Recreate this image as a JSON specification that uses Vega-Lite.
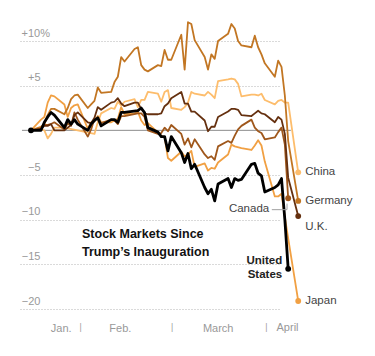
{
  "$schema": "https://vega.github.io/schema/vega-lite/v6.json",
  "width": 259,
  "height": 268,
  "autosize": {"type": "none"},
  "padding": {"left": 20, "top": 41, "right": 96, "bottom": 47},
  "background": "white",
  "config": {"view": {"stroke": null}, "font": "Liberation Sans"},
  "data": {"values": [
    {"country":"China","day":0,"pct":0},{"country":"China","day":3,"pct":0.1},{"country":"China","day":4,"pct":0},{"country":"China","day":5,"pct":-0.9},{"country":"China","day":6,"pct":-0.4},{"country":"China","day":7,"pct":0.3},{"country":"China","day":10,"pct":0.3},{"country":"China","day":19,"pct":-0.4},{"country":"China","day":20,"pct":0.9},{"country":"China","day":21,"pct":1.9},{"country":"China","day":24,"pct":2.5},{"country":"China","day":25,"pct":2.4},{"country":"China","day":26,"pct":3.2},{"country":"China","day":27,"pct":2.8},{"country":"China","day":28,"pct":3.2},{"country":"China","day":31,"pct":3.5},{"country":"China","day":32,"pct":2.6},{"country":"China","day":33,"pct":3.4},{"country":"China","day":34,"pct":3.4},{"country":"China","day":35,"pct":4.3},{"country":"China","day":38,"pct":4.1},{"country":"China","day":39,"pct":3.2},{"country":"China","day":40,"pct":4.3},{"country":"China","day":41,"pct":4.5},{"country":"China","day":42,"pct":2.5},{"country":"China","day":45,"pct":2.3},{"country":"China","day":46,"pct":2.6},{"country":"China","day":47,"pct":3.1},{"country":"China","day":48,"pct":4.3},{"country":"China","day":49,"pct":4.1},{"country":"China","day":52,"pct":3.9},{"country":"China","day":53,"pct":4.3},{"country":"China","day":54,"pct":4.0},{"country":"China","day":55,"pct":3.6},{"country":"China","day":56,"pct":5.5},{"country":"China","day":59,"pct":5.7},{"country":"China","day":60,"pct":5.8},{"country":"China","day":61,"pct":5.7},{"country":"China","day":62,"pct":5.2},{"country":"China","day":63,"pct":3.8},{"country":"China","day":66,"pct":4.0},{"country":"China","day":67,"pct":4.0},{"country":"China","day":68,"pct":3.9},{"country":"China","day":69,"pct":4.1},{"country":"China","day":70,"pct":3.4},{"country":"China","day":73,"pct":2.9},{"country":"China","day":74,"pct":3.3},{"country":"China","day":75,"pct":3.4},{"country":"China","day":76,"pct":3.1},{"country":"China","day":77,"pct":3.1},{"country":"China","day":80,"pct":-4.7},

    {"country":"Japan","day":0,"pct":0},{"country":"Japan","day":3,"pct":1.2},{"country":"Japan","day":4,"pct":1.5},{"country":"Japan","day":5,"pct":3.1},{"country":"Japan","day":6,"pct":3.9},{"country":"Japan","day":7,"pct":3.8},{"country":"Japan","day":10,"pct":2.9},{"country":"Japan","day":11,"pct":1.5},{"country":"Japan","day":12,"pct":2.5},{"country":"Japan","day":13,"pct":2.8},{"country":"Japan","day":14,"pct":2.9},{"country":"Japan","day":17,"pct":0.2},{"country":"Japan","day":18,"pct":0.9},{"country":"Japan","day":19,"pct":1.0},{"country":"Japan","day":20,"pct":1.6},{"country":"Japan","day":21,"pct":0.9},{"country":"Japan","day":24,"pct":0.9},{"country":"Japan","day":26,"pct":1.3},{"country":"Japan","day":27,"pct":2.6},{"country":"Japan","day":28,"pct":1.8},{"country":"Japan","day":31,"pct":1.9},{"country":"Japan","day":32,"pct":2.1},{"country":"Japan","day":33,"pct":1.1},{"country":"Japan","day":34,"pct":0.6},{"country":"Japan","day":35,"pct":0.8},{"country":"Japan","day":39,"pct":-0.6},{"country":"Japan","day":40,"pct":-0.8},{"country":"Japan","day":41,"pct":-3.1},{"country":"Japan","day":42,"pct":-3.4},{"country":"Japan","day":45,"pct":-2.4},{"country":"Japan","day":46,"pct":-2.9},{"country":"Japan","day":47,"pct":-2.7},{"country":"Japan","day":48,"pct":-2.3},{"country":"Japan","day":49,"pct":-4.1},{"country":"Japan","day":52,"pct":-3.7},{"country":"Japan","day":53,"pct":-4.5},{"country":"Japan","day":54,"pct":-4.2},{"country":"Japan","day":55,"pct":-4.3},{"country":"Japan","day":56,"pct":-3.6},{"country":"Japan","day":59,"pct":-2.7},{"country":"Japan","day":60,"pct":-1.6},{"country":"Japan","day":61,"pct":-1.8},{"country":"Japan","day":63,"pct":-2.0},{"country":"Japan","day":66,"pct":-2.2},{"country":"Japan","day":67,"pct":-1.7},{"country":"Japan","day":68,"pct":-1.1},{"country":"Japan","day":69,"pct":-1.7},{"country":"Japan","day":70,"pct":-3.5},{"country":"Japan","day":73,"pct":-7.4},{"country":"Japan","day":74,"pct":-7.4},{"country":"Japan","day":75,"pct":-7.1},{"country":"Japan","day":76,"pct":-9.7},{"country":"Japan","day":77,"pct":-12.1},{"country":"Japan","day":80,"pct":-19.1},

    {"country":"Germany","day":0,"pct":0},{"country":"Germany","day":3,"pct":0.4},{"country":"Germany","day":4,"pct":0.7},{"country":"Germany","day":5,"pct":1.7},{"country":"Germany","day":6,"pct":2.4},{"country":"Germany","day":7,"pct":2.4},{"country":"Germany","day":10,"pct":1.8},{"country":"Germany","day":11,"pct":2.5},{"country":"Germany","day":12,"pct":3.5},{"country":"Germany","day":13,"pct":3.9},{"country":"Germany","day":14,"pct":4.0},{"country":"Germany","day":17,"pct":2.5},{"country":"Germany","day":18,"pct":2.9},{"country":"Germany","day":19,"pct":3.3},{"country":"Germany","day":20,"pct":4.8},{"country":"Germany","day":21,"pct":4.2},{"country":"Germany","day":24,"pct":4.3},{"country":"Germany","day":25,"pct":5.4},{"country":"Germany","day":26,"pct":6.0},{"country":"Germany","day":27,"pct":8.2},{"country":"Germany","day":28,"pct":7.7},{"country":"Germany","day":31,"pct":9.1},{"country":"Germany","day":32,"pct":9.3},{"country":"Germany","day":33,"pct":7.3},{"country":"Germany","day":34,"pct":6.8},{"country":"Germany","day":35,"pct":6.6},{"country":"Germany","day":38,"pct":7.3},{"country":"Germany","day":39,"pct":7.2},{"country":"Germany","day":40,"pct":9.0},{"country":"Germany","day":41,"pct":7.9},{"country":"Germany","day":42,"pct":7.9},{"country":"Germany","day":45,"pct":10.7},{"country":"Germany","day":46,"pct":6.8},{"country":"Germany","day":47,"pct":12.1},{"country":"Germany","day":48,"pct":11.9},{"country":"Germany","day":49,"pct":10.1},{"country":"Germany","day":52,"pct":8.2},{"country":"Germany","day":53,"pct":6.8},{"country":"Germany","day":54,"pct":8.5},{"country":"Germany","day":55,"pct":8.0},{"country":"Germany","day":56,"pct":10.0},{"country":"Germany","day":59,"pct":10.8},{"country":"Germany","day":60,"pct":11.9},{"country":"Germany","day":61,"pct":11.4},{"country":"Germany","day":62,"pct":10.0},{"country":"Germany","day":63,"pct":9.5},{"country":"Germany","day":66,"pct":9.3},{"country":"Germany","day":67,"pct":10.6},{"country":"Germany","day":68,"pct":9.3},{"country":"Germany","day":69,"pct":8.5},{"country":"Germany","day":70,"pct":7.5},{"country":"Germany","day":73,"pct":6.0},{"country":"Germany","day":74,"pct":7.8},{"country":"Germany","day":75,"pct":7.1},{"country":"Germany","day":76,"pct":3.9},{"country":"Germany","day":77,"pct":-1.2},{"country":"Germany","day":80,"pct":-7.9},

    {"country":"Canada","day":0,"pct":0},{"country":"Canada","day":3,"pct":0.2},{"country":"Canada","day":4,"pct":0.6},{"country":"Canada","day":5,"pct":0.6},{"country":"Canada","day":6,"pct":0.7},{"country":"Canada","day":7,"pct":0.9},{"country":"Canada","day":10,"pct":0.1},{"country":"Canada","day":11,"pct":0.8},{"country":"Canada","day":12,"pct":0.5},{"country":"Canada","day":13,"pct":2.0},{"country":"Canada","day":14,"pct":1.2},{"country":"Canada","day":17,"pct":-0.7},{"country":"Canada","day":18,"pct":0.1},{"country":"Canada","day":19,"pct":1.3},{"country":"Canada","day":20,"pct":1.3},{"country":"Canada","day":21,"pct":0.8},{"country":"Canada","day":24,"pct":1.2},{"country":"Canada","day":25,"pct":1.1},{"country":"Canada","day":26,"pct":0.7},{"country":"Canada","day":27,"pct":1.6},{"country":"Canada","day":28,"pct":1.6},{"country":"Canada","day":32,"pct":1.9},{"country":"Canada","day":33,"pct":1.9},{"country":"Canada","day":34,"pct":1.5},{"country":"Canada","day":35,"pct":0.0},{"country":"Canada","day":38,"pct":-0.4},{"country":"Canada","day":39,"pct":-0.3},{"country":"Canada","day":40,"pct":0.3},{"country":"Canada","day":41,"pct":-0.1},{"country":"Canada","day":42,"pct":0.6},{"country":"Canada","day":45,"pct":-0.4},{"country":"Canada","day":46,"pct":-1.6},{"country":"Canada","day":47,"pct":-0.9},{"country":"Canada","day":48,"pct":-1.9},{"country":"Canada","day":49,"pct":-1.0},{"country":"Canada","day":52,"pct":-2.7},{"country":"Canada","day":53,"pct":-3.1},{"country":"Canada","day":54,"pct":-2.9},{"country":"Canada","day":55,"pct":-3.3},{"country":"Canada","day":56,"pct":-1.8},{"country":"Canada","day":59,"pct":-1.2},{"country":"Canada","day":60,"pct":-1.4},{"country":"Canada","day":61,"pct":-0.6},{"country":"Canada","day":62,"pct":0.1},{"country":"Canada","day":63,"pct":0.5},{"country":"Canada","day":66,"pct":1.2},{"country":"Canada","day":67,"pct":0.3},{"country":"Canada","day":68,"pct":-0.1},{"country":"Canada","day":69,"pct":-0.3},{"country":"Canada","day":70,"pct":-1.0},{"country":"Canada","day":73,"pct":-0.8},{"country":"Canada","day":74,"pct":-0.2},{"country":"Canada","day":75,"pct":0.3},{"country":"Canada","day":76,"pct":-1.6},{"country":"Canada","day":77,"pct":-7.6},

    {"country":"U.K.","day":0,"pct":0},{"country":"U.K.","day":3,"pct":0.2},{"country":"U.K.","day":4,"pct":0.5},{"country":"U.K.","day":5,"pct":0.5},{"country":"U.K.","day":6,"pct":0.7},{"country":"U.K.","day":7,"pct":0.0},{"country":"U.K.","day":10,"pct":0.0},{"country":"U.K.","day":11,"pct":0.3},{"country":"U.K.","day":12,"pct":0.6},{"country":"U.K.","day":13,"pct":1.7},{"country":"U.K.","day":14,"pct":2.0},{"country":"U.K.","day":17,"pct":0.9},{"country":"U.K.","day":18,"pct":0.8},{"country":"U.K.","day":19,"pct":1.4},{"country":"U.K.","day":20,"pct":2.6},{"country":"U.K.","day":21,"pct":2.3},{"country":"U.K.","day":24,"pct":3.1},{"country":"U.K.","day":25,"pct":3.2},{"country":"U.K.","day":26,"pct":3.6},{"country":"U.K.","day":27,"pct":3.0},{"country":"U.K.","day":28,"pct":2.7},{"country":"U.K.","day":31,"pct":3.1},{"country":"U.K.","day":32,"pct":3.1},{"country":"U.K.","day":33,"pct":2.4},{"country":"U.K.","day":34,"pct":1.9},{"country":"U.K.","day":35,"pct":1.8},{"country":"U.K.","day":38,"pct":1.8},{"country":"U.K.","day":39,"pct":1.9},{"country":"U.K.","day":40,"pct":2.7},{"country":"U.K.","day":41,"pct":3.0},{"country":"U.K.","day":42,"pct":3.6},{"country":"U.K.","day":45,"pct":4.3},{"country":"U.K.","day":46,"pct":3.0},{"country":"U.K.","day":47,"pct":3.0},{"country":"U.K.","day":48,"pct":2.1},{"country":"U.K.","day":49,"pct":2.1},{"country":"U.K.","day":52,"pct":1.1},{"country":"U.K.","day":53,"pct":-0.1},{"country":"U.K.","day":54,"pct":0.4},{"country":"U.K.","day":55,"pct":0.4},{"country":"U.K.","day":56,"pct":1.5},{"country":"U.K.","day":59,"pct":2.1},{"country":"U.K.","day":60,"pct":2.4},{"country":"U.K.","day":61,"pct":2.4},{"country":"U.K.","day":62,"pct":2.3},{"country":"U.K.","day":63,"pct":1.7},{"country":"U.K.","day":66,"pct":1.6},{"country":"U.K.","day":67,"pct":1.9},{"country":"U.K.","day":68,"pct":2.2},{"country":"U.K.","day":69,"pct":1.9},{"country":"U.K.","day":70,"pct":1.8},{"country":"U.K.","day":73,"pct":0.9},{"country":"U.K.","day":74,"pct":1.5},{"country":"U.K.","day":75,"pct":1.2},{"country":"U.K.","day":76,"pct":-0.4},{"country":"U.K.","day":77,"pct":-5.3},{"country":"U.K.","day":80,"pct":-9.6},

    {"country":"United States","day":0,"pct":0},{"country":"United States","day":3,"pct":0},{"country":"United States","day":4,"pct":0.9},{"country":"United States","day":5,"pct":1.5},{"country":"United States","day":6,"pct":2.0},{"country":"United States","day":7,"pct":1.7},{"country":"United States","day":10,"pct":0.3},{"country":"United States","day":11,"pct":1.2},{"country":"United States","day":12,"pct":0.7},{"country":"United States","day":13,"pct":1.2},{"country":"United States","day":14,"pct":0.7},{"country":"United States","day":17,"pct":0.0},{"country":"United States","day":18,"pct":0.7},{"country":"United States","day":19,"pct":1.1},{"country":"United States","day":20,"pct":1.4},{"country":"United States","day":21,"pct":0.5},{"country":"United States","day":24,"pct":1.2},{"country":"United States","day":25,"pct":1.2},{"country":"United States","day":26,"pct":0.9},{"country":"United States","day":27,"pct":2.0},{"country":"United States","day":28,"pct":2.0},{"country":"United States","day":32,"pct":2.2},{"country":"United States","day":33,"pct":2.5},{"country":"United States","day":34,"pct":2.0},{"country":"United States","day":35,"pct":0.3},{"country":"United States","day":38,"pct":-0.2},{"country":"United States","day":39,"pct":-0.7},{"country":"United States","day":40,"pct":-0.7},{"country":"United States","day":41,"pct":-2.3},{"country":"United States","day":42,"pct":-0.7},{"country":"United States","day":45,"pct":-2.5},{"country":"United States","day":46,"pct":-3.6},{"country":"United States","day":47,"pct":-2.6},{"country":"United States","day":48,"pct":-4.3},{"country":"United States","day":49,"pct":-3.8},{"country":"United States","day":52,"pct":-6.4},{"country":"United States","day":53,"pct":-7.1},{"country":"United States","day":54,"pct":-6.6},{"country":"United States","day":55,"pct":-7.9},{"country":"United States","day":56,"pct":-6.0},{"country":"United States","day":59,"pct":-5.4},{"country":"United States","day":60,"pct":-6.4},{"country":"United States","day":61,"pct":-5.4},{"country":"United States","day":62,"pct":-5.6},{"country":"United States","day":63,"pct":-5.5},{"country":"United States","day":66,"pct":-3.8},{"country":"United States","day":67,"pct":-3.7},{"country":"United States","day":68,"pct":-4.8},{"country":"United States","day":69,"pct":-5.1},{"country":"United States","day":70,"pct":-6.9},{"country":"United States","day":73,"pct":-6.4},{"country":"United States","day":74,"pct":-6.1},{"country":"United States","day":75,"pct":-5.4},{"country":"United States","day":76,"pct":-10.0},{"country":"United States","day":77,"pct":-15.5}
  ]},
  "encoding": {
    "x": {"field": "day", "type": "quantitative",
      "scale": {"domain": [-3.29, 74.25], "nice": false, "zero": false},
      "axis": {"values": [8.9, 14.7, 26.6, 42.1, 55.9, 70.3],
        "labelExpr": "datum.value == 8.9 ? 'Jan.' : datum.value == 26.6 ? 'Feb.' : datum.value == 55.9 ? 'March' : '|'",
        "title": null, "domain": false, "ticks": false, "grid": false,
        "labelPadding": 13, "labelColor": "#999999", "labelFont": "Liberation Sans",
        "labelFontSize": {"condition": {"test": "datum.value == 14.7 || datum.value == 42.1 || datum.value == 70.3", "value": 8.5}, "value": 11},
        "labelFlush": false, "labelOverlap": false, "labelBound": false}},
    "y": {"field": "pct", "type": "quantitative",
      "scale": {"domain": [-20, 10], "nice": false, "zero": false},
      "axis": {"values": [-20, -15, -10, -5, 5, 10],
        "labelExpr": "datum.value > 0 ? '+' + datum.value + (datum.value == 10 ? '%' : '') : '−' + abs(datum.value)",
        "title": null, "domain": false, "ticks": false, "grid": true,
        "gridDash": [1, 2], "gridColor": "#b5b5b5", "gridWidth": 1,
        "labelAlign": "right", "labelBaseline": "alphabetic",
        "labelPadding": {"condition": {"test": "datum.value == 10", "value": -29.5}, "value": -20},
        "labelOffset": -5, "labelColor": "#999999", "labelFont": "Liberation Sans", "labelFontSize": 11,
        "labelFlush": false, "labelOverlap": false, "labelBound": false}}
  },
  "layer": [
    {"transform": [{"filter": "datum.country == 'United States' && datum.day == 0"}],
     "mark": {"type": "rule", "color": "#8c8c8c", "strokeWidth": 1},
     "encoding": {"x": {"datum": -2.7}, "x2": {"datum": 77.8}, "y": {"datum": 0}}},
    {"transform": [{"filter": "datum.country != 'United States'"}],
     "mark": {"type": "line", "strokeWidth": 1.8, "strokeJoin": "round"},
     "encoding": {"color": {"field": "country", "type": "nominal",
        "scale": {"domain": ["China", "Japan", "Germany", "Canada", "U.K.", "United States"], "range": ["#fdbd6c", "#f1a043", "#c27623", "#9f571b", "#65300f", "#000000"]},
        "legend": null}}},
    {"transform": [{"filter": "datum.country == 'United States'"}],
     "mark": {"type": "line", "strokeWidth": 2.8, "color": "#000000", "strokeJoin": "round"}},
    {"transform": [{"filter": "datum.day == 80 || (datum.day == 77 && (datum.country == 'Canada' || datum.country == 'United States')) || (datum.day == 0 && datum.country == 'United States')"}],
     "mark": {"type": "circle", "size": 34, "opacity": 1},
     "encoding": {"color": {"field": "country", "type": "nominal",
        "scale": {"domain": ["China", "Japan", "Germany", "Canada", "U.K.", "United States"], "range": ["#fdbd6c", "#f1a043", "#c27623", "#9f571b", "#65300f", "#000000"]},
        "legend": null}}},
    {"transform": [{"filter": "datum.day == 80 && datum.country != 'U.K.'"}],
     "mark": {"type": "text", "align": "left", "baseline": "middle", "dx": 7, "fontSize": 11.5, "font": "Liberation Sans", "color": "#444444"},
     "encoding": {"text": {"field": "country"}}},
    {"transform": [{"filter": "datum.day == 80 && datum.country == 'U.K.'"}],
     "mark": {"type": "text", "align": "left", "baseline": "middle", "dx": 7, "dy": 10.5, "fontSize": 11.5, "font": "Liberation Sans", "color": "#444444"},
     "encoding": {"text": {"field": "country"}}},
    {"transform": [{"filter": "datum.day == 77 && datum.country == 'Canada'"}],
     "mark": {"type": "text", "align": "right", "baseline": "middle", "dx": -19, "dy": 10.5, "fontSize": 11.5, "font": "Liberation Sans", "color": "#444444"},
     "encoding": {"text": {"field": "country"}}},
    {"transform": [{"filter": "datum.day == 77 && datum.country == 'United States'"}],
     "mark": {"type": "text", "align": "right", "baseline": "middle", "dx": -6, "dy": -8, "fontSize": 11.5, "fontWeight": "bold", "font": "Liberation Sans", "color": "#222222", "lineBreak": " ", "lineHeight": 14},
     "encoding": {"text": {"field": "country"}}},
    {"transform": [{"filter": "datum.country == 'United States' && datum.day == 0"}],
     "mark": {"type": "rule", "color": "#a0a0a0", "strokeWidth": 1},
     "encoding": {"x": {"datum": 72.1}, "x2": {"datum": 76.65}, "y": {"datum": -8.88}}},
    {"transform": [{"filter": "datum.country == 'United States' && datum.day == 0"}],
     "mark": {"type": "rule", "color": "#a0a0a0", "strokeWidth": 1},
     "encoding": {"x": {"datum": 76.65}, "y": {"datum": -8.2}, "y2": {"datum": -8.88}}},
    {"transform": [{"filter": "datum.country == 'United States' && datum.day == 0"}],
     "mark": {"type": "text", "align": "center", "baseline": "top", "dy": 13, "fontSize": 11, "font": "Liberation Sans", "color": "#999999"},
     "encoding": {"x": {"datum": 76.8}, "y": {"datum": -20}, "text": {"value": "April"}}},
    {"transform": [{"filter": "datum.country == 'United States' && datum.day == 0"}],
     "mark": {"type": "text", "align": "left", "baseline": "middle", "fontSize": 12.5, "fontWeight": "bold", "font": "Liberation Sans", "color": "#121212", "lineHeight": 18},
     "encoding": {"x": {"datum": 15.27}, "y": {"datum": -11.57}, "text": {"value": ["Stock Markets Since", "Trump’s Inauguration"]}}}
  ]
}
